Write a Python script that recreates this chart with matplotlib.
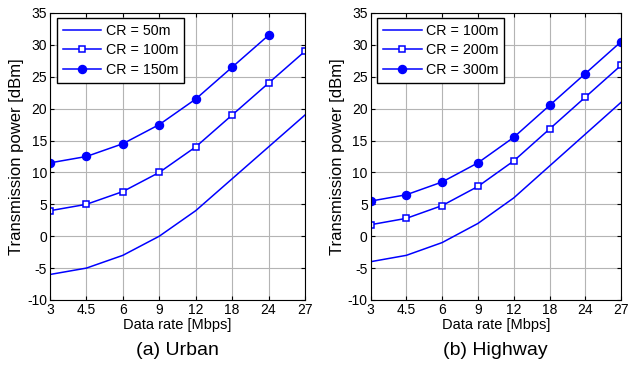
import numpy as np
import matplotlib.pyplot as plt

plt.rcParams['font.family'] = ['Liberation Sans', 'DejaVu Sans']
plt.rcParams['axes.unicode_minus'] = False

rates = ['3', '4.5', '6', '9', '12', '18', '24', '27']

# (a) Urban
urban_50 = [-6, -5, -3, 0, 4, 9, 14, 19]
urban_100 = [4, 5, 7, 10, 14, 19, 24, 29]
urban_150 = [11.5, 12.5, 14.5, 17.5, 21.5, 26.5, 31.5]

# (b) Highway
hw_100 = [-4, -3, -1, 2, 6, 11, 16, 21]
hw_200 = [1.8, 2.8, 4.8, 7.8, 11.8, 16.8, 21.8, 26.8]
hw_300 = [5.5, 6.5, 8.5, 11.5, 15.5, 20.5, 25.5, 30.5]

blue = '#0000ff'
fig = plt.figure(figsize=(6.28, 3.71), dpi=100)
ax1 = fig.add_axes([0.0796, 0.1914, 0.406, 0.7736])
ax2 = fig.add_axes([0.590, 0.1914, 0.399, 0.7736])


def draw(ax, series, names, caption):
    x = np.arange(len(rates))
    ax.plot(x[:len(series[0])], series[0], color=blue, lw=1.1, label=names[0])
    ax.plot(x[:len(series[1])], series[1], color=blue, lw=1.1, marker='s',
            ms=5, mfc='white', mec=blue, mew=1.1, label=names[1])
    ax.plot(x[:len(series[2])], series[2], color=blue, lw=1.1, marker='o',
            ms=5.8, mfc=blue, mec=blue, label=names[2])
    ax.set_xlim(0, len(rates) - 1)
    ax.set_ylim(-10, 35)
    ax.set_xticks(x)
    ax.set_xticklabels(rates)
    ax.set_yticks(np.arange(-10, 36, 5))
    ax.tick_params(direction='in', labelsize=10, length=3, top=True, right=True,
                   labeltop=False, labelright=False, pad=2)
    ax.grid(True, color='#b4b4b4', lw=0.8)
    for s in ax.spines.values():
        s.set_linewidth(0.8)
    ax.set_xlabel('Data rate [Mbps]', fontsize=10.5, labelpad=1)
    ax.set_ylabel('Transmission power [dBm]', fontsize=12, labelpad=2)
    leg = ax.legend(loc='upper left', fontsize=10.3, fancybox=False, framealpha=1,
                    edgecolor='black', handlelength=2.7, borderpad=0.4,
                    labelspacing=0.4, handletextpad=0.3, borderaxespad=0,
                    bbox_to_anchor=(0.027, 0.983))
    leg.get_frame().set_linewidth(1.0)
    ax.text(0.5, -0.175, caption, transform=ax.transAxes, ha='center', va='center',
            fontsize=14)


draw(ax1, [urban_50, urban_100, urban_150],
     ['CR = 50m', 'CR = 100m', 'CR = 150m'], '(a) Urban')
draw(ax2, [hw_100, hw_200, hw_300],
     ['CR = 100m', 'CR = 200m', 'CR = 300m'], '(b) Highway')

fig.savefig('out.png', dpi=100)
